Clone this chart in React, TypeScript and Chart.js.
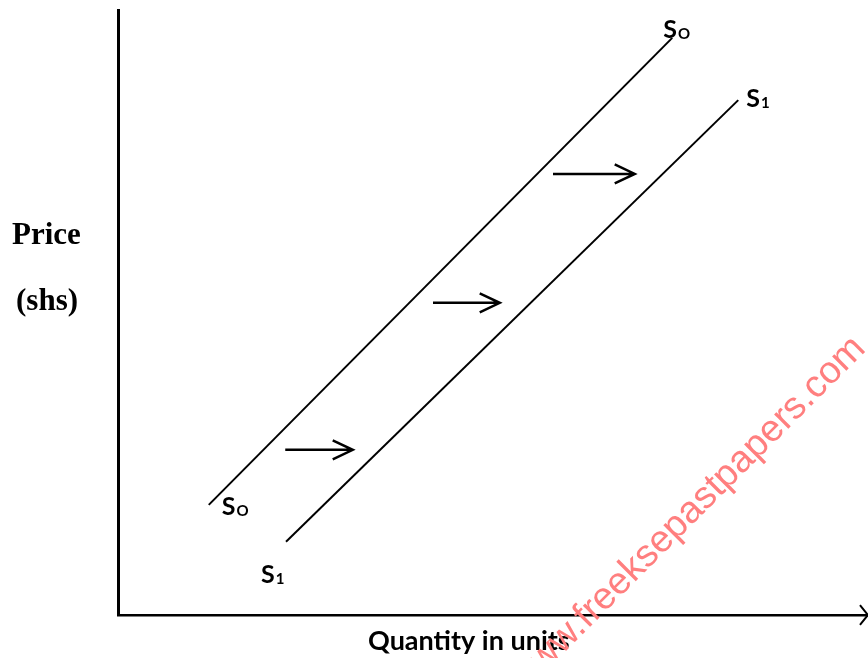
import React, { useEffect, useRef } from "react";
import { Chart, registerables } from "chart.js";

Chart.register(...registerables);

// ---- data (abstract units 0..100 on both axes) ----
const S0_LINE = [
  { x: 12.1, y: 18.2 },
  { x: 73.9, y: 95.4 },
];
const S1_LINE = [
  { x: 22.4, y: 12.1 },
  { x: 82.7, y: 85.1 },
];
// shift arrows: y level, start x, end x
const ARROW_Y = [27.3, 51.6, 72.9];
const ARROW_X0 = [22.3, 42.0, 58.0];
const ARROW_X1 = [31.3, 50.9, 68.9];

const Y_TITLE = ["Price", "(shs)"];
const X_TITLE = "Quantity in units";
const WATERMARK = "www.freeksepastpapers.com";

// ---- styling constants ----
const HEAD_DX = 2.67;
const HEAD_DY = 1.57;
const AXIS_HEAD_DX = 1.07;
const AXIS_HEAD_DY = 1.65;

type Lbl = { main: string; sub: string; line: { x: number; y: number }[]; end: number; dx: number; dy: number };
const LABELS: Lbl[] = [
  { main: "S", sub: "O", line: S0_LINE, end: 1, dx: -9, dy: 0 },
  { main: "S", sub: "1", line: S1_LINE, end: 1, dx: 8, dy: 7 },
  { main: "S", sub: "O", line: S0_LINE, end: 0, dx: 13, dy: 10 },
  { main: "S", sub: "1", line: S1_LINE, end: 0, dx: -25, dy: 41 },
];

function arrowPoints(y: number, x0: number, x1: number) {
  return [
    { x: x0, y },
    { x: x1, y },
    { x: x1, y: null as any },
    { x: x1 - HEAD_DX, y: y + HEAD_DY },
    { x: x1, y },
    { x: x1 - HEAD_DX, y: y - HEAD_DY },
  ];
}

const textPlugin = {
  id: "texts",
  afterDatasetsDraw(chart: any) {
    const ctx = chart.ctx;
    const xs = chart.scales.x;
    const ys = chart.scales.y;
    ctx.save();
    ctx.fillStyle = "#000";
    ctx.textBaseline = "alphabetic";
    ctx.textAlign = "left";
    // curve labels
    for (const l of LABELS) {
      const p = l.line[l.end];
      const px = xs.getPixelForValue(p.x) + l.dx;
      const py = ys.getPixelForValue(p.y) + l.dy;
      ctx.font = "bold 25px Lato";
      ctx.fillText(l.main, px, py);
      const w = ctx.measureText(l.main).width;
      ctx.font = "bold 15px Lato";
      ctx.fillText(l.sub, px + w + 1, py + 1);
    }
    // y title
    ctx.font = 'bold 31px "Liberation Serif"';
    ctx.fillText(Y_TITLE[0], 12, 244);
    ctx.fillText(Y_TITLE[1], 16, 310);
    // x title
    ctx.font = "bold 27px Lato";
    ctx.fillText(X_TITLE, 368, 650);
    ctx.restore();
  },
  afterDraw(chart: any) {
    const ctx = chart.ctx;
    ctx.save();
    ctx.translate(867, 350);
    ctx.rotate((-45 * Math.PI) / 180);
    ctx.font = '38px "Liberation Sans"';
    ctx.textAlign = "right";
    ctx.textBaseline = "alphabetic";
    ctx.fillStyle = "#ff7f7f";
    ctx.fillText(WATERMARK, 0, 0);
    ctx.restore();
  },
};

export default function App() {
  const ref = useRef<HTMLCanvasElement>(null);
  useEffect(() => {
    if (!ref.current) return;
    const lineDs = (data: any[], w = 2, clip: any = undefined) => ({
      data,
      showLine: true,
      borderColor: "#000",
      backgroundColor: "#000",
      borderWidth: w,
      pointRadius: 0,
      pointHoverRadius: 0,
      spanGaps: false,
      borderCapStyle: "butt",
      borderJoinStyle: "miter",
      ...(clip !== undefined ? { clip } : {}),
    });
    const datasets: any[] = [
      lineDs(S0_LINE),
      lineDs(S1_LINE),
      ...ARROW_Y.map((y, i) => lineDs(arrowPoints(y, ARROW_X0[i], ARROW_X1[i]), 2.5)),
      lineDs(
        [
          { x: 100 - AXIS_HEAD_DX, y: AXIS_HEAD_DY },
          { x: 100, y: 0 },
          { x: 100 - AXIS_HEAD_DX, y: -AXIS_HEAD_DY },
        ],
        2,
        false
      ),
    ];
    const chart = new Chart(ref.current, {
      type: "scatter",
      data: { datasets },
      options: {
        animation: false,
        responsive: false,
        events: [],
        layout: { padding: { left: 118, top: 10, right: 0, bottom: 43 } },
        plugins: { legend: { display: false }, tooltip: { enabled: false } },
        scales: {
          x: {
            type: "linear",
            min: 0,
            max: 100,
            grid: { display: false, drawTicks: false },
            ticks: { display: false },
            border: { display: true, color: "#000", width: 2.5 },
          },
          y: {
            type: "linear",
            min: 0,
            max: 100,
            grid: { display: false, drawTicks: false },
            ticks: { display: false },
            border: { display: true, color: "#000", width: 3 },
          },
        },
      },
      plugins: [textPlugin],
    } as any);
    return () => chart.destroy();
  }, []);
  return (
    <div style={{ position: "fixed", left: 0, top: 0, width: 868, height: 658, background: "#fff" }}>
      <canvas ref={ref} width={868} height={658} style={{ display: "block" }} />
    </div>
  );
}
